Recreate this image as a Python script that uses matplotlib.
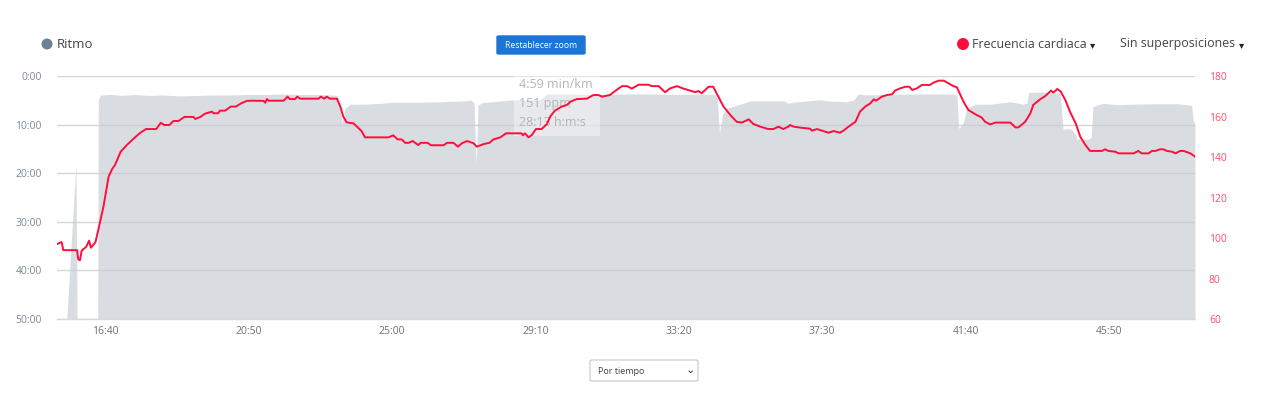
import matplotlib
matplotlib.use("Agg")
import matplotlib.pyplot as plt
from matplotlib.patches import FancyBboxPatch, Rectangle, Ellipse
from matplotlib.ticker import FuncFormatter, FixedLocator

plt.rcParams['font.family'] = ['Open Sans', 'DejaVu Sans']

# ---------------- data ----------------
# Heart rate (time in seconds, bpm)
hr_time = [916, 924, 927, 951, 953, 956, 959, 967, 972, 975, 983, 988, 997, 1006, 1012, 1017,
           1027, 1038, 1049, 1060, 1071, 1089, 1097, 1103, 1112, 1119, 1128, 1138, 1154, 1157,
           1166, 1174, 1186, 1189, 1197, 1200, 1209, 1219, 1228, 1237, 1247, 1256, 1276, 1279,
           1282, 1285, 1311, 1318, 1322, 1331, 1335, 1340, 1372, 1376, 1382, 1386, 1392, 1404,
           1410, 1415, 1421, 1433, 1442, 1447, 1453, 1494, 1502, 1510, 1517, 1523, 1529, 1536,
           1546, 1550, 1562, 1568, 1590, 1596, 1607, 1615, 1622, 1631, 1642, 1648, 1660, 1670,
           1677, 1689, 1699, 1726, 1728, 1732, 1738, 1744, 1751, 1761, 1770, 1776, 1784, 1796,
           1805, 1811, 1822, 1840, 1851, 1860, 1866, 1880, 1889, 1901, 1910, 1918, 1930, 1947,
           1953, 1965, 1976, 1985, 1997, 2008, 2020, 2029, 2034, 2040, 2052, 2060, 2069, 2078,
           2090, 2101, 2110, 2122, 2130, 2142, 2156, 2165, 2174, 2182, 2191, 2194, 2200, 2212,
           2229, 2232, 2241, 2261, 2270, 2281, 2287, 2296, 2308, 2316, 2325, 2334, 2340, 2344,
           2354, 2363, 2372, 2377, 2386, 2395, 2402, 2407, 2415, 2424, 2438, 2444, 2453, 2462,
           2470, 2479, 2485, 2491, 2498, 2505, 2517, 2528, 2534, 2543, 2552, 2578, 2587, 2592,
           2604, 2613, 2618, 2630, 2639, 2649, 2653, 2660, 2666, 2674, 2682, 2692, 2700, 2709,
           2717, 2738, 2743, 2749, 2761, 2767, 2793, 2801, 2807, 2819, 2825, 2831, 2839, 2845,
           2851, 2860, 2866, 2874, 2880, 2892, 2900]
hr_bpm = [97, 98, 94, 94, 89.5, 89, 93.7, 95.7, 98.7, 95.2, 97.9, 104, 115.5, 130.3, 134, 136,
          142.6, 146, 148.9, 151.7, 153.8, 153.8, 156.9, 155.8, 155.8, 157.8, 157.8, 159.8, 159.8, 158.8,
          159.8, 161.4, 162.4, 161.6, 161.6, 162.9, 162.9, 164.9, 164.9, 166.5, 167.7, 167.8, 167.7, 166.8,
          168.6, 167.8, 167.8, 169.8, 168.6, 168.6, 169.8, 168.8, 168.8, 169.8, 168.8, 169.8, 168.8, 168.8,
          164.9, 160, 157.1, 156.6, 154.2, 152.8, 149.7, 149.7, 150.7, 148.7, 148.7, 147, 147, 147.9,
          145.9, 147, 147, 145.8, 145.8, 147, 147, 145.1, 146.8, 147.9, 146.8, 145.1, 146.4, 147,
          148.7, 149.7, 151.7, 151.7, 150.7, 151.7, 149.7, 150.9, 153.8, 153.8, 156.3, 160, 162.9, 164.9,
          165.7, 167.3, 168.6, 168.8, 170.6, 170.6, 169.8, 170.6, 172.6, 175, 175, 173.8, 175.7, 175.7,
          175, 175, 172, 173.9, 175, 173.8, 172.8, 172, 172.6, 171.5, 174.7, 174.7, 169.8, 164.9,
          160.7, 157.4, 157, 158.6, 156.3, 155, 153.8, 153.8, 155, 153.8, 155, 155.8, 155, 154.5,
          154, 153, 153.8, 152, 152.8, 152, 153, 155, 157.4, 162.4, 164.9, 166.5, 168.5, 167.8,
          169.8, 170.6, 171, 172.8, 173.9, 174.7, 174.7, 173.1, 173.9, 175.6, 175.6, 176.7, 177.7, 177.7,
          176.4, 175, 174.4, 170.6, 166.5, 163.2, 161.1, 159.5, 157.4, 156.1, 157, 157, 154.6, 154.6,
          157.4, 161.6, 165.7, 168.5, 170.1, 172.8, 171.8, 173.6, 172.3, 168.1, 162.4, 156.6, 150, 145.9,
          143, 143, 143.8, 143, 142.6, 141.8, 141.8, 143, 141.8, 141.8, 143, 143, 143.8, 143.8,
          143, 142.6, 141.8, 143, 143, 141.8, 140.2]

# Pace (time in seconds, minutes per km)
pace_time = [916, 930, 933, 949, 951, 953, 985, 987, 988, 992, 1010, 1030, 1050, 1075, 1100,
             1130, 1160, 1190, 1220, 1250, 1280, 1310, 1340, 1370, 1396, 1404, 1407, 1413, 1418,
             1427, 1450, 1485, 1497, 1543, 1584, 1631, 1636, 1643, 1647, 1650, 1657, 1712, 1758,
             1770, 1800, 1850, 1900, 1950, 2000, 2040, 2063, 2067, 2071, 2076, 2084, 2113, 2125,
             2182, 2191, 2206, 2246, 2258, 2293, 2305, 2313, 2328, 2360, 2403, 2440, 2479, 2485,
             2488, 2496, 2502, 2517, 2543, 2578, 2601, 2607, 2610, 2636, 2665, 2670, 2677, 2685,
             2691, 2694, 2714, 2719, 2722, 2729, 2740, 2764, 2793, 2830, 2868, 2894, 2897, 2900]
pace_min = [60, 60, 50, 18, 50, 60, 60, 50, 4.9, 3.9, 3.8, 4.0, 3.8, 4.0, 3.9,
            4.1, 4.0, 3.9, 3.9, 3.8, 3.8, 3.7, 3.8, 3.8, 3.9, 4.0, 4.6, 9.7, 6.6,
            5.8, 5.8, 5.6, 5.4, 5.4, 5.3, 5.1, 4.9, 5.5, 18, 6.0, 5.5, 4.9, 4.9,
            3.7, 3.7, 3.8, 3.7, 3.7, 3.8, 3.7, 3.8, 4.5, 11.7, 8.0, 6.6, 5.6, 5.1,
            5.1, 5.6, 5.3, 4.9, 5.1, 5.3, 4.9, 3.7, 3.9, 3.8, 3.7, 3.7, 3.7, 3.9,
            10.8, 9.7, 6.6, 5.8, 5.8, 5.3, 5.8, 5.6, 3.4, 3.3, 3.6, 11.0, 10.8, 11.0,
            11.8, 13.0, 13.0, 12.6, 6.3, 6.0, 5.6, 5.9, 5.8, 5.7, 5.7, 6.0, 9.1, 10.0]

time_ticks = [1000, 1250, 1500, 1750, 2000, 2250, 2500, 2750]
pace_ticks = [0, 10, 20, 30, 40, 50]
hr_ticks = [60, 80, 100, 120, 140, 160, 180]

# ---------------- figure ----------------
W, H = 1280, 411
fig = plt.figure(figsize=(W / 100, H / 100), dpi=100)
x0, x1 = 57, 1195
y0, y1 = 76, 319
ax = fig.add_axes([x0 / W, 1 - y1 / H, (x1 - x0) / W, (y1 - y0) / H])

ax.fill_between(pace_time, pace_min, 50, color=(200/255, 206/255, 213/255), alpha=0.68,
                linewidth=0, zorder=2)
ax.set_ylim(50, 0)
ax.set_xlim(916, 2900)
ax.yaxis.set_major_locator(FixedLocator(pace_ticks))
ax.yaxis.set_major_formatter(FuncFormatter(lambda v, p: f"{int(round(v))}:00"))
ax.xaxis.set_major_locator(FixedLocator(time_ticks))
ax.xaxis.set_major_formatter(FuncFormatter(lambda v, p: f"{int(v)//60}:{int(v)%60:02d}"))
ax.grid(axis='y', color='#d6d6d6', linewidth=1, zorder=1)
ax.set_axisbelow(True)
for s in ['top', 'right', 'left']:
    ax.spines[s].set_visible(False)
ax.spines['bottom'].set_color('#d6d9de')
ax.spines['bottom'].set_linewidth(1)
ax.tick_params(axis='y', length=0, pad=11, labelsize=7.5, labelcolor='#7d8a99')
ax.tick_params(axis='x', length=0, pad=5, labelsize=7.5, labelcolor='#707070')

# tooltip (behind heart-rate line)
tx0, ty0, tx1, ty1 = 514, 70, 600, 136
tip = Rectangle((tx0 / W, 1 - ty1 / H), (tx1 - tx0) / W, (ty1 - ty0) / H,
                transform=fig.transFigure, facecolor='white', alpha=0.38,
                edgecolor='none', zorder=5)
ax.add_artist(tip)
tip.set_clip_on(False)
for i, s in enumerate(["4:59 min/km", "151 ppm", "28:13 h:m:s"]):
    ax.text(519 / W, 1 - (85 + i * 18.5) / H, s, transform=fig.transFigure,
            fontsize=9, color='#b4b4b4', va='center', ha='left', zorder=6)

ax2 = ax.twinx()
ax2.plot(hr_time, hr_bpm, color='#ff0d3d', linewidth=1.4, zorder=3, solid_joinstyle='round')
ax2.set_ylim(60, 180)
ax2.yaxis.set_major_locator(FixedLocator(hr_ticks))
for s in ['top', 'right', 'left', 'bottom']:
    ax2.spines[s].set_visible(False)
ax2.tick_params(axis='y', length=0, pad=10, labelsize=7.5, labelcolor='#ff4d6d')
ax2.set_xlim(916, 2900)

# ---------------- header / controls ----------------
fig.patches.append(Ellipse((47 / W, 1 - 44 / H), 11 / W, 11 / H, transform=fig.transFigure,
                           facecolor='#6d8196', edgecolor='none'))
fig.text(57 / W, 1 - 44 / H, "Ritmo", fontsize=9.5, color='#444444', va='center', ha='left')

btn = FancyBboxPatch((497 / W, 1 - 54 / H), 88 / W, 18 / H,
                     boxstyle="round,pad=0,rounding_size=0.002",
                     transform=fig.transFigure, facecolor='#1c74d4', edgecolor='#1c74d4')
fig.patches.append(btn)
fig.text(541 / W, 1 - 45 / H, "Restablecer zoom", fontsize=6.2, color='white',
         va='center', ha='center')

fig.patches.append(Ellipse((963 / W, 1 - 44 / H), 12 / W, 12 / H, transform=fig.transFigure,
                           facecolor='#ff0d3d', edgecolor='none'))
fig.text(972 / W, 1 - 44 / H, "Frecuencia cardiaca", fontsize=8.9, color='#444444',
         va='center', ha='left')
fig.text(1093 / W, 1 - 45 / H, "▾", fontsize=7.5, color='#222222', va='center', ha='center',
         family=['DejaVu Sans'])
fig.text(1120 / W, 1 - 44 / H, "Sin superposiciones", fontsize=8.9, color='#444444',
         va='center', ha='left')
fig.text(1242 / W, 1 - 45 / H, "▾", fontsize=7.5, color='#222222', va='center', ha='center',
         family=['DejaVu Sans'])

dd = FancyBboxPatch((590 / W, 1 - 381 / H), 108 / W, 21 / H,
                    boxstyle="round,pad=0,rounding_size=0.002",
                    transform=fig.transFigure, facecolor='white', edgecolor='#c8c8c8',
                    linewidth=0.8)
fig.patches.append(dd)
fig.text(598 / W, 1 - 371 / H, "Por tiempo", fontsize=6.5, color='#444444',
         va='center', ha='left')
fig.text(690 / W, 1 - 370 / H, "⌄", fontsize=8, color='#333333', va='center', ha='center',
         family=['DejaVu Sans'])

fig.savefig("out.png", dpi=100)
